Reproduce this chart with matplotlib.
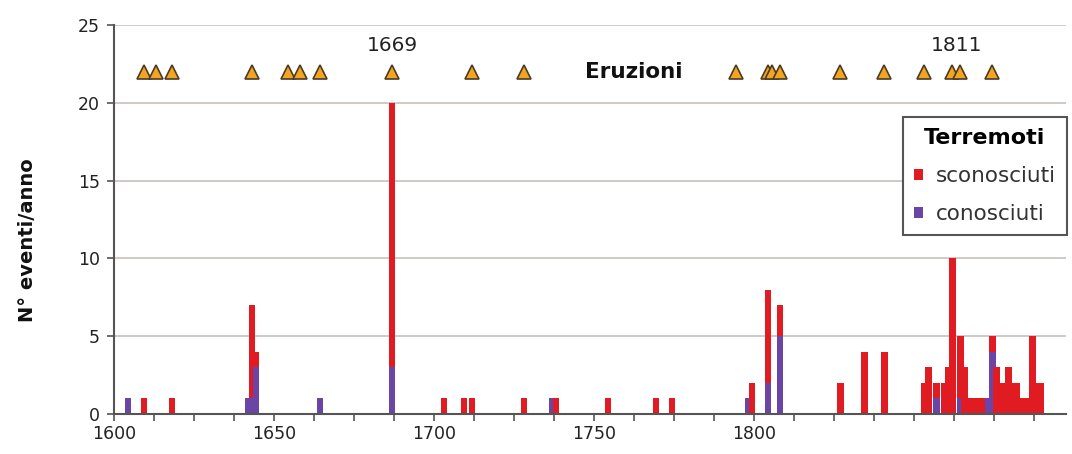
import matplotlib
matplotlib.use('Agg')
import matplotlib.pyplot as plt

# earthquakes per year (stacked: known at bottom, unknown on top)
years = [1603, 1607, 1614, 1633, 1634, 1635, 1651, 1669, 1682, 1687, 1689,
         1702, 1709, 1710, 1723, 1735, 1739, 1758, 1759, 1763, 1766, 1781,
         1787, 1792, 1802, 1803, 1805, 1807, 1808, 1809, 1811, 1812, 1813,
         1814, 1815, 1816, 1817, 1818, 1819, 1820, 1821, 1822, 1823, 1824,
         1825, 1826, 1827, 1828, 1829, 1830, 1831]
conosciuti = [1, 0, 0, 1, 1, 3, 1, 3, 0, 0, 0,
              0, 1, 0, 0, 0, 0, 1, 0, 2, 5, 0,
              0, 0, 0, 0, 1, 0, 0, 0, 1, 0, 0,
              0, 0, 0, 0, 1, 4, 0, 0, 0, 0, 0,
              0, 0, 0, 0, 0, 0, 0]
sconosciuti = [0, 1, 1, 0, 6, 1, 0, 17, 1, 1, 1,
               1, 0, 1, 1, 1, 1, 0, 2, 6, 2, 2,
               4, 4, 2, 3, 1, 2, 3, 10, 4, 3, 1,
               1, 1, 1, 1, 0, 1, 3, 2, 2, 3, 2,
               2, 1, 1, 1, 5, 2, 2]

eruzioni = [1607, 1610, 1614, 1634, 1643, 1646, 1651, 1669, 1689, 1702,
            1755, 1763, 1764, 1766, 1781, 1792, 1802, 1809, 1811, 1819]

# x axis: ticks every 10 years, labels as printed on the original
tick_years = list(range(1600, 1840, 10))
label_years = [1600, 1640, 1680, 1720, 1760]
label_text = ['1600', '1650', '1700', '1750', '1800']

RED = '#e11b22'
BLUE = '#6a45a6'
ORANGE = '#f4a520'

fig = plt.figure(figsize=(10.72, 4.54), dpi=100)
ax = fig.add_axes([114 / 1072, 1 - 414 / 454, 952 / 1072, 389 / 454])

b_blue = ax.bar(years, conosciuti, width=1.6, color=BLUE, linewidth=0,
                label='conosciuti')
b_red = ax.bar(years, sconosciuti, width=1.6, bottom=conosciuti, color=RED,
               linewidth=0, label='sconosciuti')
# later years drawn over earlier ones
for i, (pb, pr) in enumerate(zip(b_blue.patches, b_red.patches)):
    pb.set_zorder(2 + i * 0.01)
    pr.set_zorder(2 + i * 0.01 + 0.005)

ax.plot(eruzioni, [22] * len(eruzioni), linestyle='none', marker='^',
        markersize=10.5, markerfacecolor=ORANGE, markeredgecolor='#4a3b25',
        markeredgewidth=1.2, zorder=5)
ax.text(1729.5, 22, 'Eruzioni', ha='center', va='center', fontsize=15.5,
        fontweight='bold', color='#111111')
ax.text(1669, 23.7, '1669', ha='center', va='center', fontsize=14.5,
        color='#222222')
ax.text(1810, 23.7, '1811', ha='center', va='center', fontsize=14.5,
        color='#222222')

ax.set_xlim(1599.5, 1837.4)
ax.set_ylim(0, 25)
ax.set_yticks([0, 5, 10, 15, 20, 25])
ax.set_xticks([y - 0.5 for y in tick_years], minor=True)
ax.set_xticks([y - 0.5 for y in label_years])
ax.set_xticklabels(label_text)
ax.tick_params(axis='both', which='both', direction='out', length=5,
               width=1.2, color='#555555', labelsize=12.5, labelcolor='#222222')
ax.tick_params(axis='y', pad=5)
ax.tick_params(axis='x', pad=3)

ax.set_axisbelow(True)
ax.yaxis.grid(True, color='#cdc6c1', linewidth=1.3)
for s in ['top', 'right']:
    ax.spines[s].set_visible(False)
for s in ['left', 'bottom']:
    ax.spines[s].set_color('#555555')
    ax.spines[s].set_linewidth(1.5)
    ax.spines[s].set_zorder(10)

fig.text(0.026, 0.47, 'N° eventi/anno', rotation=90, ha='center',
         va='center', fontsize=14, fontweight='bold', color='#111111')

leg = ax.legend([b_red, b_blue], ['sconosciuti', 'conosciuti'],
                title='Terremoti', loc='upper right',
                bbox_to_anchor=(1067 / 1072, 1 - 117 / 454),
                bbox_transform=fig.transFigure, borderaxespad=0,
                fontsize=15.5, handlelength=0.45, handleheight=0.45,
                handletextpad=0.6, labelspacing=0.85, borderpad=0.5,
                fancybox=False, framealpha=1, edgecolor='#555555')
leg.get_title().set_fontweight('bold')
leg.get_title().set_fontsize(16)
leg.get_frame().set_linewidth(1.5)
for t in leg.get_texts():
    t.set_color('#333333')
leg.set_zorder(20)

fig.savefig('out.png', dpi=100)
